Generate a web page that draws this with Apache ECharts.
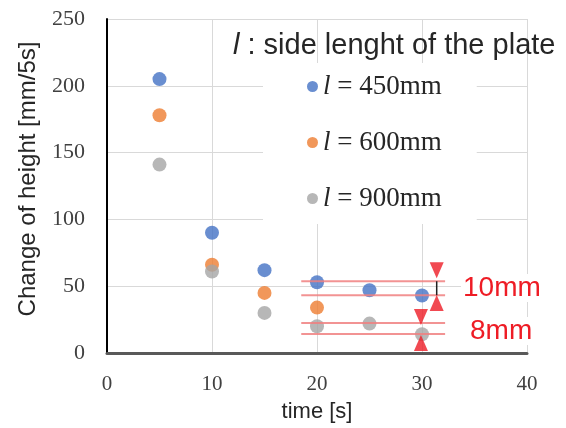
<!DOCTYPE html>
<html>
<head>
<meta charset="utf-8">
<script src="https://cdn.jsdelivr.net/npm/echarts@6/dist/echarts.min.js"></script>
<style>
  html, body { margin: 0; padding: 0; background: #fff; }
  #chart { width: 566px; height: 428px; }
</style>
</head>
<body>
<div id="chart"></div>
<script>
// data
const seriesNames = ['450mm', '600mm', '900mm']
const timeBlue = [5, 10, 15, 20, 25, 30]
const heightBlue = [205, 90, 62, 53, 47, 43]
const timeOrange = [5, 10, 15, 20]
const heightOrange = [178, 66, 45, 34]
const timeGray = [5, 10, 15, 20, 25, 30]
const heightGray = [141, 61, 30, 20, 22, 14]

// red reference lines (levels in mm/5s) and their span in seconds
const refLevels = [53.7, 43.3, 22.4, 14.2]
const refSpan = [18.5, 32.2]

// red triangles: x, y, pointing down?
const triX = [31.4, 31.4, 29.9, 29.9]
const triY = [62, 37.5, 27, 7.5]
const triDown = [true, false, true, false]
const bracketX = 31.4
const bracketY = [53.7, 43.3]

const xTicks = [0, 40, 10]
const yTicks = [0, 250, 50]

const colors = ['#4472c4', '#ed7d31', '#a5a5a5']
const red = '#ee1c25'

const pair = (xs, ys) => xs.map((x, i) => [x, ys[i]])

const chart = echarts.init(document.getElementById('chart'))

const series = [
  { name: seriesNames[0], type: 'scatter', data: pair(timeBlue, heightBlue), symbolSize: 14, itemStyle: { color: colors[0] }, z: 5 },
  { name: seriesNames[1], type: 'scatter', data: pair(timeOrange, heightOrange), symbolSize: 14, itemStyle: { color: colors[1] }, z: 5 },
  { name: seriesNames[2], type: 'scatter', data: pair(timeGray, heightGray), symbolSize: 14, itemStyle: { color: colors[2] }, z: 5 }
]

refLevels.forEach((lv) => {
  series.push({
    type: 'line',
    data: [[refSpan[0], lv], [refSpan[1], lv]],
    symbol: 'none',
    lineStyle: { color: '#f08080', width: 2, opacity: 0.85 },
    silent: true,
    z: 6
  })
})

series.push({
  type: 'line',
  data: bracketY.map((y) => [bracketX, y]),
  symbol: 'none',
  lineStyle: { color: '#222', width: 1.5 },
  silent: true,
  z: 6
})

series.push({
  type: 'scatter',
  data: triX.map((x, i) => ({
    value: [x, triY[i]],
    symbolRotate: triDown[i] ? 180 : 0
  })),
  symbol: 'triangle',
  symbolSize: [14, 16],
  itemStyle: { color: red },
  silent: true,
  z: 7
})

chart.setOption({
  animation: false,
  backgroundColor: '#fff',
  grid: { left: 107, right: 39, top: 19, bottom: 74 },
  title: {
    text: '{i|l} : side lenght of the plate',
    left: 228,
    top: 26,
    textStyle: {
      fontFamily: 'Liberation Sans',
      fontSize: 29,
      fontWeight: 'normal',
      color: '#262626',
      rich: {
        i: { fontFamily: 'Liberation Sans', fontStyle: 'italic', fontSize: 29, color: '#262626' }
      }
    }
  },
  legend: {
    data: seriesNames,
    orient: 'vertical',
    left: 263,
    top: 63,
    padding: [10, 35, 12, 44],
    itemGap: 29,
    itemWidth: 11,
    itemHeight: 11,
    icon: 'circle',
    backgroundColor: '#fff',
    formatter: (n) => '{i|l} = ' + n,
    textStyle: {
      fontFamily: 'Liberation Serif',
      fontSize: 27,
      color: '#262626',
      rich: {
        i: { fontFamily: 'Liberation Serif', fontStyle: 'italic', fontSize: 27, color: '#262626' }
      }
    }
  },
  xAxis: {
    type: 'value',
    min: xTicks[0],
    max: xTicks[1],
    interval: xTicks[2],
    name: 'time [s]',
    nameLocation: 'middle',
    nameGap: 48,
    nameTextStyle: { fontFamily: 'Liberation Sans', fontSize: 22, color: '#262626' },
    axisLine: { lineStyle: { color: '#595959', width: 3 } },
    axisTick: { show: false },
    axisLabel: { fontFamily: 'Liberation Serif', fontSize: 21, color: '#404040', margin: 21 },
    splitLine: { lineStyle: { color: '#d9d9d9', width: 1 } }
  },
  yAxis: {
    type: 'value',
    min: yTicks[0],
    max: yTicks[1],
    interval: yTicks[2],
    name: 'Change of height [mm/5s]',
    nameLocation: 'middle',
    nameGap: 67,
    nameTextStyle: { fontFamily: 'Liberation Sans', fontSize: 24, color: '#262626', padding: [0, 0, 0, 14] },
    axisLine: { show: true, lineStyle: { color: '#000', width: 2 } },
    axisTick: { show: false },
    axisLabel: { fontFamily: 'Liberation Serif', fontSize: 22, color: '#404040', margin: 22 },
    splitLine: { lineStyle: { color: '#d9d9d9', width: 1 } }
  },
  graphic: [
    { type: 'text', left: 461, top: 274, z: 100, style: { text: '10mm', fontFamily: 'Liberation Sans', fontSize: 28, fill: red, backgroundColor: '#fff', padding: [0, 2] } },
    { type: 'text', left: 468, top: 317, z: 100, style: { text: '8mm', fontFamily: 'Liberation Sans', fontSize: 28, fill: red, backgroundColor: '#fff', padding: [0, 2] } }
  ],
  series: series
})
</script>
</body>
</html>
